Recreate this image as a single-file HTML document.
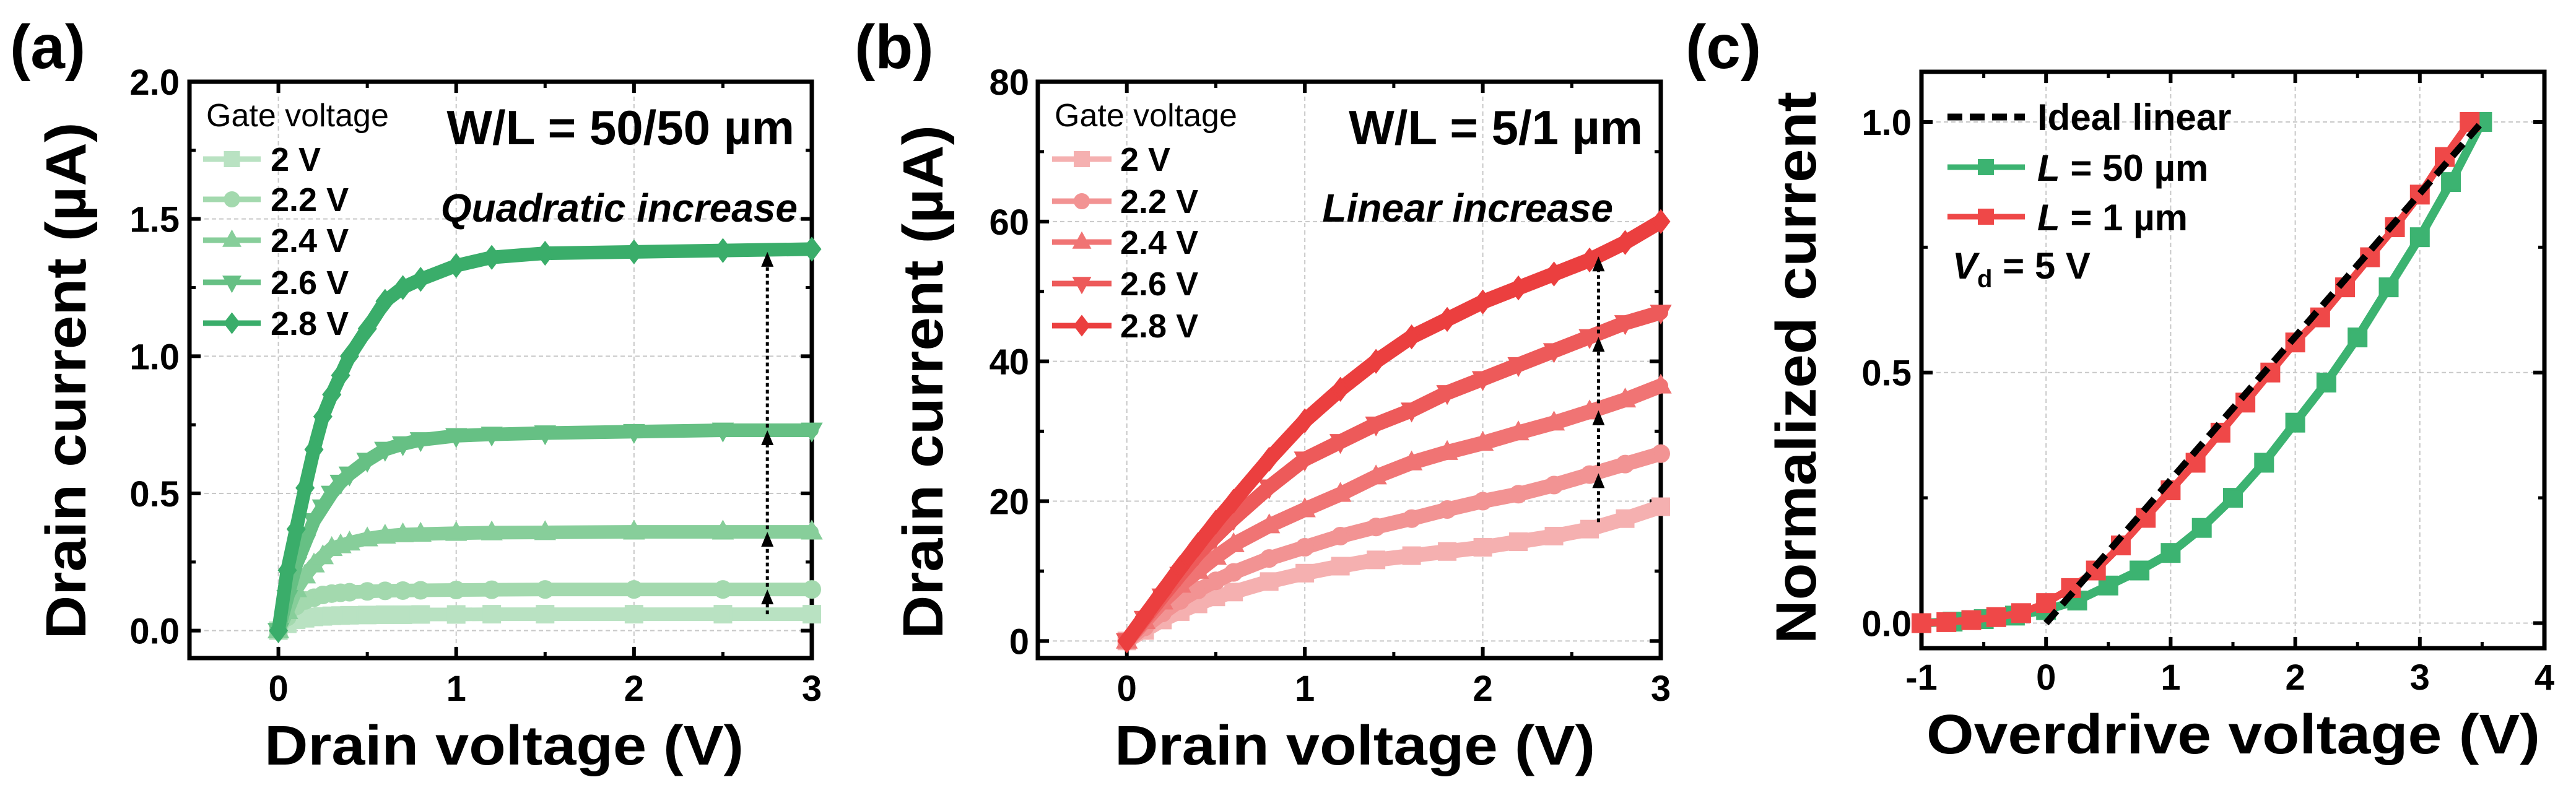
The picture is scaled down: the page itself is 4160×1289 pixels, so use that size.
<!DOCTYPE html>
<html><head><meta charset="utf-8"><style>
html,body{margin:0;padding:0;background:#fff;}
svg{display:block;font-family:"Liberation Sans",Arial,sans-serif;}
</style></head><body>
<svg id="fig" width="4160" height="1289" viewBox="0 0 4160 1289" xmlns="http://www.w3.org/2000/svg"></svg>
<script>
// ---------- Panel (a) data ----------
const aX = [0,0.05,0.1,0.15,0.2,0.25,0.3,0.35,0.4,0.5,0.6,0.7,0.8,1.0,1.2,1.5,2.0,2.5,3.0];
const aLabels = ['2 V','2.2 V','2.4 V','2.6 V','2.8 V'];
const aV20 = [0,0.025,0.04,0.045,0.05,0.052,0.054,0.055,0.056,0.057,0.058,0.058,0.059,0.059,0.06,0.06,0.06,0.06,0.06];
const aV22 = [0,0.05,0.09,0.11,0.12,0.13,0.135,0.138,0.14,0.143,0.145,0.146,0.147,0.148,0.149,0.15,0.15,0.15,0.15];
const aV24 = [0,0.07,0.15,0.2,0.24,0.27,0.3,0.31,0.32,0.335,0.345,0.35,0.352,0.355,0.357,0.358,0.36,0.36,0.36];
const aV26 = [0,0.12,0.24,0.32,0.40,0.45,0.5,0.54,0.57,0.62,0.66,0.68,0.695,0.71,0.715,0.72,0.725,0.73,0.73];
const aV28 = [0,0.22,0.37,0.52,0.66,0.78,0.86,0.93,1.0,1.1,1.2,1.25,1.28,1.33,1.36,1.375,1.38,1.385,1.39];
const aXTicks = [0,1,2,3];
const aYTicks = [0,0.5,1.0,1.5,2.0];
const aYTickLabels = ['0.0','0.5','1.0','1.5','2.0'];
const aArrowX = 2.75;
const aArrowFrom = [0.06,0.16,0.37,0.74];
const aArrowTo = [0.15,0.36,0.73,1.38];

// ---------- Panel (b) data ----------
const bX = [0,0.1,0.2,0.3,0.4,0.5,0.6,0.8,1.0,1.2,1.4,1.6,1.8,2.0,2.2,2.4,2.6,2.8,3.0];
const bLabels = ['2 V','2.2 V','2.4 V','2.6 V','2.8 V'];
const bV20 = [0,1.5,3,4.2,5.3,6.3,7,8.5,9.7,10.7,11.6,12.2,12.8,13.4,14.2,15,16,17.5,19.2];
const bV22 = [0,2,4,5.8,7.3,8.6,9.8,11.8,13.4,15,16.3,17.5,18.8,20,21,22.3,23.8,25.3,26.8];
const bV24 = [0,2.8,5.6,8,10,12,13.8,16.5,18.8,21,23.5,25.5,27,28.3,29.8,31.2,32.8,34.5,36.5];
const bV26 = [0,3.2,6.4,9.5,12.5,15,17.5,22,26,28.5,31,33,35.5,37.5,39.5,41.5,43.5,45.5,47];
const bV28 = [0,3.5,7,10.5,13.8,17,20,26,31.5,36,40,43.5,46,48.5,50.5,52.5,54.5,57,60];
const bXTicks = [0,1,2,3];
const bYTicks = [0,20,40,60,80];
const bArrowX = 2.65;
const bArrowFrom = [17,25,34,44];
const bArrowTo = [24,33,43.5,55];

// ---------- Panel (c) data ----------
const cGX = [-1,-0.75,-0.5,-0.25,0,0.25,0.5,0.75,1,1.25,1.5,1.75,2,2.25,2.5,2.75,3,3.25,3.5];
const cGY = [0,0.003,0.008,0.015,0.026,0.045,0.075,0.105,0.14,0.19,0.25,0.32,0.40,0.48,0.57,0.67,0.77,0.88,1.0];
const cRX = [-1,-0.8,-0.6,-0.4,-0.2,0,0.2,0.4,0.6,0.8,1.0,1.2,1.4,1.6,1.8,2.0,2.2,2.4,2.6,2.8,3.0,3.2,3.4];
const cRY = [0,0.002,0.006,0.012,0.02,0.04,0.07,0.105,0.155,0.21,0.265,0.32,0.38,0.44,0.5,0.56,0.61,0.67,0.73,0.79,0.855,0.93,1.0];
const cIdealX = [0,3.5];
const cIdealY = [0,1];
const cXTicks = [-1,0,1,2,3,4];
const cYTicks = [0,0.5,1.0];
const cYTickLabels = ['0.0','0.5','1.0'];

const NS='http://www.w3.org/2000/svg';
const svg=document.getElementById('fig');
function el(tag,attrs,parent,text){const e=document.createElementNS(NS,tag);for(const k in attrs)e.setAttribute(k,attrs[k]);if(text!==undefined)e.textContent=text;(parent||svg).appendChild(e);return e;}
function scale(d0,d1,r0,r1){return v=>r0+(v-d0)/(d1-d0)*(r1-r0);}

function marker(g,shape,x,y,s,fill,stroke){
  if(shape==='square'){el('rect',{x:x-s/2,y:y-s/2,width:s,height:s,fill:fill,stroke:stroke,'stroke-width':4},g);}
  else if(shape==='circle'){el('circle',{cx:x,cy:y,r:s/2,fill:fill,stroke:stroke,'stroke-width':4},g);}
  else if(shape==='up'){el('polygon',{points:`${x},${y-s*0.6} ${x-s*0.55},${y+s*0.4} ${x+s*0.55},${y+s*0.4}`,fill:fill,stroke:stroke,'stroke-width':4},g);}
  else if(shape==='down'){el('polygon',{points:`${x},${y+s*0.6} ${x-s*0.55},${y-s*0.4} ${x+s*0.55},${y-s*0.4}`,fill:fill,stroke:stroke,'stroke-width':4},g);}
  else {el('polygon',{points:`${x},${y-s*0.65} ${x+s*0.5},${y} ${x},${y+s*0.65} ${x-s*0.5},${y}`,fill:fill,stroke:stroke,'stroke-width':4},g);}
}

function frame(g,L,T,R,B,sx,sy,xt,yt,yl,xlabelY,ylabelX){
  xt.forEach(v=>{const gl=el('line',{x1:sx(v),x2:sx(v),y1:T,y2:B,stroke:'#c8c8c8','stroke-width':2,'stroke-dasharray':'7,5'},g);
    
    });
  yt.forEach(v=>{const gl=el('line',{x1:L,x2:R,y1:sy(v),y2:sy(v),stroke:'#c8c8c8','stroke-width':2,'stroke-dasharray':'7,5'},g);
    
    });
  xt.forEach((v,i)=>{
    el('line',{x1:sx(v),x2:sx(v),y1:T,y2:T+18,stroke:'#000','stroke-width':6},g);
    el('line',{x1:sx(v),x2:sx(v),y1:B,y2:B-18,stroke:'#000','stroke-width':6},g);
    const t=el('text',{x:sx(v),y:xlabelY,'font-size':58,'font-weight':'bold','text-anchor':'middle'},g,String(v));
    
    
    if(i<xt.length-1){const m=(sx(v)+sx(xt[i+1]))/2;
      el('line',{x1:m,x2:m,y1:T,y2:T+10,stroke:'#000','stroke-width':5},g);
      el('line',{x1:m,x2:m,y1:B,y2:B-10,stroke:'#000','stroke-width':5},g);}
  });
  yt.forEach((v,i)=>{
    el('line',{x1:L,x2:L+18,y1:sy(v),y2:sy(v),stroke:'#000','stroke-width':6},g);
    el('line',{x1:R,x2:R-18,y1:sy(v),y2:sy(v),stroke:'#000','stroke-width':6},g);
    const t=el('text',{x:ylabelX,y:sy(v)+21,'font-size':58,'font-weight':'bold','text-anchor':'end'},g,yl[i]);
    
    
    if(i<yt.length-1){const m=(sy(v)+sy(yt[i+1]))/2;
      el('line',{x1:L,x2:L+10,y1:m,y2:m,stroke:'#000','stroke-width':5},g);
      el('line',{x1:R,x2:R-10,y1:m,y2:m,stroke:'#000','stroke-width':5},g);}
  });
  const f=el('rect',{x:L,y:T,width:R-L,height:B-T,fill:'none',stroke:'#000','stroke-width':7},g);
  
  
}

function series(g,xs,ys,sx,sy,color,shape,ms,lw,name){
  const sg=el('g',{},g);
  
  
  const pts=xs.map((x,i)=>sx(x)+','+sy(ys[i])).join(' ');
  el('polyline',{points:pts,fill:'none',stroke:color,'stroke-width':lw,'stroke-linejoin':'round','stroke-linecap':'round'},sg);
  xs.forEach((x,i)=>marker(sg,shape,sx(x),sy(ys[i]),ms,color,color));
}

function arrows(g,x,from,to,sx,sy){
  from.forEach((f,i)=>{
    const ag=el('g',{},g);
    
    
    const X=sx(x),y1=sy(f),y2=sy(to[i]);
    el('line',{x1:X,x2:X,y1:y1,y2:y2+18,stroke:'#000','stroke-width':5,'stroke-dasharray':'6,5'},ag);
    el('polygon',{points:`${X},${y2} ${X-10},${y2+24} ${X+10},${y2+24}`,fill:'#000'},ag);
  });
}

function legendEntry(g,x1,x2,y,color,shape,label,tx,name){
  const lg=el('g',{},g);
  
  
  el('line',{x1:x1,x2:x2,y1:y,y2:y,stroke:color,'stroke-width':9},lg);
  marker(lg,shape,(x1+x2)/2,y,22,color,color);
  el('text',{x:tx,y:y+19,'font-size':54,'font-weight':'bold'},lg,label);
}

function ytitle(g,x,yc,len,text,name){
  const t=el('text',{x:0,y:0,transform:`translate(${x},${yc}) rotate(-90)`,'font-size':92,'font-weight':'bold','text-anchor':'middle',textLength:len,lengthAdjust:'spacingAndGlyphs'},g,text);
  
  
}
function xtitle(g,x0,x1,y,text,name){
  const t=el('text',{x:x0,y:y,'font-size':90,'font-weight':'bold',textLength:x1-x0,lengthAdjust:'spacingAndGlyphs'},g,text);
  
  
}
function plabel(g,x,y,text,name){
  const t=el('text',{x:x,y:y,'font-size':100,'font-weight':'bold'},g,text);
  
  
}

// ===== Panel a =====
(function(){
  const g=el('g',{});
  
  
  const L=306,R=1311,T=132,B=1063;
  const sx=scale(-0.5,3,L,R), sy=scale(-0.1,2.0,B,T);
  frame(g,L,T,R,B,sx,sy,aXTicks,aYTicks,aYTickLabels,1132,290);
  const cols=['#b9e2c2','#a3d9ae','#87ce9a','#66c084','#3aad6a'];
  const shapes=['square','circle','up','down','diamond'];
  const data=[aV20,aV22,aV24,aV26,aV28];
  data.forEach((d,i)=>series(g,aX,d,sx,sy,cols[i],shapes[i],26,22,'series-'+aLabels[i].replace(/ /g,'').replace('.','-')));
  arrows(g,aArrowX,aArrowFrom,aArrowTo,sx,sy);
  const lt=el('text',{x:333,y:204,'font-size':52},g,'Gate voltage');
  
  
  const ly=[257,322,388,456,522];
  aLabels.forEach((lab,i)=>legendEntry(g,328,421,ly[i],cols[i],shapes[i],lab,437,'legend-entry'));
  const wl=el('text',{x:1283,y:233,'font-size':78,'font-weight':'bold','text-anchor':'end'},g,'W/L = 50/50 µm');
  
  
  const q=el('text',{x:1288,y:358,'font-size':64,'font-style':'italic','font-weight':'bold','text-anchor':'end'},g,'Quadratic increase');
  
  
  ytitle(g,138,615,835,'Drain current (µA)','y-axis-title');
  xtitle(g,427,1201,1235,'Drain voltage (V)','x-axis-title');
  plabel(g,16,110,'(a)','panel-label-a');
})();

// ===== Panel b =====
(function(){
  const g=el('g',{});
  
  
  const L=1676,R=2682,T=132,B=1063;
  const sx=scale(-0.5,3,L,R), sy=scale(-2.45,80,B,T);
  frame(g,L,T,R,B,sx,sy,bXTicks,bYTicks,bYTicks.map(String),1132,1662);
  const cols=['#f5b0b0','#f29393','#f07474','#ed5a5a','#eb3f3f'];
  const shapes=['square','circle','up','down','diamond'];
  const data=[bV20,bV22,bV24,bV26,bV28];
  data.forEach((d,i)=>series(g,bX,d,sx,sy,cols[i],shapes[i],26,24,'series-'+bLabels[i].replace(/ /g,'').replace('.','-')));
  arrows(g,bArrowX,bArrowFrom,bArrowTo,sx,sy);
  const lt=el('text',{x:1703,y:204,'font-size':52},g,'Gate voltage');
  
  
  const ly=[257,325,391,458,526];
  bLabels.forEach((lab,i)=>legendEntry(g,1699,1795,ly[i],cols[i],shapes[i],lab,1809,'legend-entry'));
  const wl=el('text',{x:2653,y:233,'font-size':78,'font-weight':'bold','text-anchor':'end'},g,'W/L = 5/1 µm');
  
  
  const q=el('text',{x:2605,y:358,'font-size':64,'font-style':'italic','font-weight':'bold','text-anchor':'end'},g,'Linear increase');
  
  
  ytitle(g,1522,617,830,'Drain current (µA)','y-axis-title');
  xtitle(g,1800,2576,1235,'Drain voltage (V)','x-axis-title');
  plabel(g,1380,110,'(b)','panel-label-b');
})();

// ===== Panel c =====
(function(){
  const g=el('g',{});
  
  
  const L=3103,R=4109,T=116,B=1047;
  const sx=scale(-1,4,L,R), sy=scale(-0.05,1.1,B,T);
  frame(g,L,T,R,B,sx,sy,cXTicks,cYTicks,cYTickLabels,1114,3087);
  series(g,cGX,cGY,sx,sy,'#3cb371','square',28,14,'series-l-50um');
  series(g,cRX,cRY,sx,sy,'#ef4848','square',28,12,'series-l-1um');
  const id=el('polyline',{points:cIdealX.map((x,i)=>sx(x)+','+sy(cIdealY[i])).join(' '),fill:'none',stroke:'#000','stroke-width':11,'stroke-dasharray':'26,14'},g);
  
  
  const lg=el('g',{},g);
  
  
  el('line',{x1:3145,x2:3270,y1:189,y2:189,stroke:'#000','stroke-width':11,'stroke-dasharray':'24,12'},lg);
  el('text',{x:3290,y:210,'font-size':60,'font-weight':'bold'},lg,'Ideal linear');
  [['#3cb371','50 µm',270,'legend-l-50um'],['#ef4848','1 µm',350,'legend-l-1um']].forEach(a=>{
    const eg=el('g',{},g);
    
    
    el('line',{x1:3145,x2:3270,y1:a[2],y2:a[2],stroke:a[0],'stroke-width':9},eg);
    el('rect',{x:3194,y:a[2]-13,width:26,height:26,fill:a[0]},eg);
    const t=el('text',{x:3290,y:a[2]+22,'font-size':60,'font-weight':'bold'},eg);
    el('tspan',{'font-style':'italic'},t,'L');
    el('tspan',{},t,' = '+a[1]);
  });
  const vd=el('text',{x:3153,y:450,'font-size':60,'font-weight':'bold'},g);
  
  
  el('tspan',{'font-style':'italic'},vd,'V');
  el('tspan',{'font-size':40,dy:14},vd,'d');
  el('tspan',{dy:-14},vd,' = 5 V');
  ytitle(g,2932,594,892,'Normalized current','y-axis-title');
  xtitle(g,3111,4102,1217,'Overdrive voltage (V)','x-axis-title');
  plabel(g,2722,110,'(c)','panel-label-c');
})();
</script>
</body></html>
